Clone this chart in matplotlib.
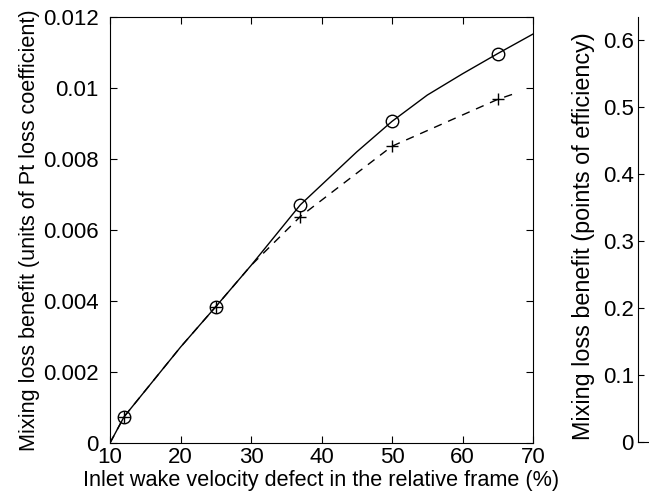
import numpy as np
import matplotlib.pyplot as plt

plt.rcParams['font.family'] = ['Liberation Sans', 'DejaVu Sans']

# Data
wake_defect = [12, 25, 37, 50, 65]
benefit_solid_pts = [0.00074, 0.00384, 0.00671, 0.00906, 0.01097]
benefit_dash_pts = [0.00074, 0.00384, 0.00638, 0.00836, 0.00968]

solid_x = [10, 12, 20, 25, 30, 37, 45, 50, 55, 60, 65, 70]
solid_y = [0.0, 0.00074, 0.0027, 0.00384, 0.0050, 0.00671, 0.0082, 0.00906, 0.0098, 0.0104, 0.01097, 0.01152]
dash_x = [10, 12, 20, 25, 30, 37, 45, 50, 55, 60, 65, 67.5]
dash_y = [0.0, 0.00074, 0.0027, 0.00384, 0.0050, 0.00638, 0.0076, 0.00836, 0.0088, 0.00924, 0.00968, 0.00985]

W, H = 649, 497
fig = plt.figure(figsize=(W / 100, H / 100), dpi=100)

ax = fig.add_axes([110 / W, 1 - 443 / H, 423 / W, 426 / H])
ax.plot(solid_x, solid_y, color='black', lw=1.0)
ax.plot(dash_x, dash_y, color='black', lw=1.0, linestyle=(0, (6, 5)))
ax.plot(wake_defect, benefit_solid_pts, 'o', mfc='none', mec='black', ms=9, mew=1.0)
ax.plot(wake_defect, benefit_dash_pts, '+', color='black', ms=9, mew=1.0)

ax.set_xlim(10, 70)
ax.set_ylim(0, 0.012)
ax.set_xticks([10, 20, 30, 40, 50, 60, 70])
ax.set_yticks([0, 0.002, 0.004, 0.006, 0.008, 0.01, 0.012])
ax.set_yticklabels(['0', '0.002', '0.004', '0.006', '0.008', '0.01', '0.012'])
ax.tick_params(direction='in', length=5, labelsize=16, top=True, right=True)
ax.tick_params(axis='x', pad=3)
ax.tick_params(axis='y', pad=8)
ax.set_xlabel('Inlet wake velocity defect in the relative frame (%)', fontsize=15.6, labelpad=1)
ax.set_ylabel('Mixing loss benefit (units of Pt loss coefficient)', fontsize=15.6, labelpad=2)

# secondary scale in points of efficiency
ax2 = fig.add_axes([638 / W, 1 - 442 / H, 10 / W, 425 / H])
ax2.set_ylim(0, 0.634)
ax2.set_xlim(0, 1)
ax2.set_yticks([0, 0.1, 0.2, 0.3, 0.4, 0.5, 0.6])
ax2.set_yticklabels(['0', '0.1', '0.2', '0.3', '0.4', '0.5', '0.6'])
ax2.set_xticks([])
ax2.spines['top'].set_visible(False)
ax2.spines['right'].set_visible(False)
ax2.patch.set_visible(False)
ax2.tick_params(direction='in', length=4, labelsize=16, pad=3)
ax2.set_ylabel('Mixing loss benefit (points of efficiency)', fontsize=16.8)
ax2.yaxis.set_label_coords(-4.3, 0.485)

fig.savefig('out.png', dpi=100)
